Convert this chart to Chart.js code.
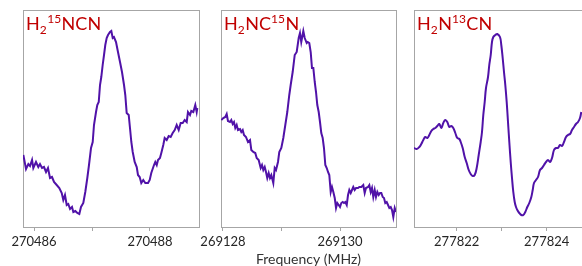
<!DOCTYPE html>
<html>
<head>
<meta charset="utf-8">
<script src="https://cdn.jsdelivr.net/npm/chart.js@4"></script>
<style>
  html, body { margin: 0; padding: 0; background: #fff; overflow: hidden; }
  #wrap { position: relative; width: 582px; height: 266px; overflow: hidden; }
  canvas { position: absolute; top: 0; }
</style>
</head>
<body>
<div id="wrap">
  <canvas id="c1" width="211" height="266" style="left:0px"></canvas>
  <canvas id="c2" width="217" height="266" style="left:191px"></canvas>
  <canvas id="c3" width="200" height="266" style="left:384px"></canvas>
</div>
<script>
// H2(15)NCN
const freq1 = [
  270485.816, 270485.862, 270485.902, 270485.931, 270485.966, 270485.988, 270486.034, 270486.074, 270486.103, 270486.138,
  270486.172, 270486.207, 270486.241, 270486.276, 270486.310, 270486.345, 270486.391, 270486.436, 270486.478, 270486.505,
  270486.534, 270486.564, 270486.591, 270486.621, 270486.655, 270486.678, 270486.712, 270486.747, 270486.781, 270486.810,
  270486.850, 270486.884, 270486.919, 270486.948, 270486.983, 270487.012, 270487.034, 270487.069, 270487.091, 270487.116,
  270487.138, 270487.160, 270487.184, 270487.207, 270487.229, 270487.253, 270487.276, 270487.310, 270487.333, 270487.357,
  270487.379, 270487.414, 270487.448, 270487.483, 270487.517, 270487.552, 270487.574, 270487.598, 270487.633, 270487.655,
  270487.678, 270487.702, 270487.736, 270487.771, 270487.793, 270487.822, 270487.850, 270487.884, 270487.919, 270487.966,
  270487.995, 270488.022, 270488.069, 270488.091, 270488.116, 270488.138, 270488.172, 270488.195, 270488.229, 270488.253,
  270488.288, 270488.322, 270488.357, 270488.391, 270488.426, 270488.460, 270488.495, 270488.529, 270488.564, 270488.598,
  270488.633, 270488.655, 270488.690, 270488.712, 270488.747, 270488.781, 270488.805, 270488.816
];
const int1 = [
  72, 58, 63, 61, 67, 59, 65, 60, 63, 59,
  60, 55, 59, 49, 50, 45, 42, 39, 34, 27,
  32, 22, 23, 18, 20, 15, 16, 14, 13, 20,
  24, 35, 49, 62, 79, 85, 102, 115, 122, 125,
  142, 150, 162, 172, 182, 189, 192, 195, 196, 189,
  190, 185, 175, 165, 155, 142, 132, 114, 112, 99,
  85, 75, 65, 60, 52, 50, 44, 47, 44, 44,
  47, 54, 62, 65, 62, 67, 69, 74, 82, 89,
  87, 91, 90, 94, 97, 102, 97, 104, 104, 107,
  105, 115, 112, 116, 115, 122, 115, 119
];

// H2NC(15)N
const freq2 = [
  269127.971, 269128.005, 269128.039, 269128.063, 269128.085, 269128.120, 269128.142, 269128.166, 269128.188, 269128.210,
  269128.234, 269128.256, 269128.291, 269128.313, 269128.337, 269128.359, 269128.393, 269128.427, 269128.462, 269128.484,
  269128.518, 269128.552, 269128.576, 269128.610, 269128.644, 269128.667, 269128.689, 269128.713, 269128.735, 269128.757,
  269128.781, 269128.803, 269128.826, 269128.860, 269128.884, 269128.906, 269128.940, 269128.962, 269128.997, 269129.031,
  269129.065, 269129.099, 269129.133, 269129.157, 269129.191, 269129.226, 269129.260, 269129.294, 269129.316, 269129.338,
  269129.373, 269129.397, 269129.431, 269129.448, 269129.475, 269129.499, 269129.521, 269129.544, 269129.568, 269129.590,
  269129.612, 269129.636, 269129.658, 269129.680, 269129.704, 269129.726, 269129.749, 269129.773, 269129.795, 269129.817,
  269129.841, 269129.863, 269129.886, 269129.910, 269129.932, 269129.954, 269129.978, 269130.000, 269130.022, 269130.046,
  269130.068, 269130.091, 269130.115, 269130.137, 269130.159, 269130.183, 269130.205, 269130.227, 269130.251, 269130.274,
  269130.308, 269130.330, 269130.364, 269130.398, 269130.422, 269130.444, 269130.479, 269130.501, 269130.525, 269130.547,
  269130.569, 269130.593, 269130.615, 269130.638, 269130.662, 269130.684, 269130.706, 269130.730, 269130.752, 269130.774,
  269130.798, 269130.821, 269130.843, 269130.867, 269130.889, 269130.911, 269130.935, 269130.957
];
const int2 = [
  107, 109, 110, 113, 106, 105, 107, 103, 105, 99,
  102, 97, 98, 95, 97, 92, 90, 85, 87, 77,
  75, 74, 69, 67, 59, 62, 57, 60, 55, 49,
  54, 49, 52, 44, 59, 57, 65, 75, 79, 89,
  102, 115, 132, 142, 155, 172, 175, 189, 194, 185,
  196, 189, 184, 185, 184, 175, 159, 159, 145, 135,
  122, 115, 105, 94, 89, 79, 62, 59, 55, 52,
  35, 40, 35, 29, 19, 24, 22, 20, 24, 25,
  24, 25, 22, 32, 37, 34, 37, 40, 37, 39,
  39, 40, 40, 42, 34, 39, 40, 42, 35, 39,
  30, 37, 30, 35, 32, 34, 34, 30, 29, 24,
  25, 22, 19, 20, 17, 10, 19, 15
];

// H2N(13)CN
const freq3 = [
  277821.051, 277821.111, 277821.169, 277821.213, 277821.258, 277821.302, 277821.347, 277821.391, 277821.436, 277821.480,
  277821.524, 277821.569, 277821.613, 277821.658, 277821.702, 277821.747, 277821.791, 277821.836, 277821.880, 277821.924,
  277821.969, 277822.013, 277822.058, 277822.089, 277822.133, 277822.178, 277822.222, 277822.267, 277822.311, 277822.356,
  277822.400, 277822.444, 277822.489, 277822.533, 277822.562, 277822.591, 277822.622, 277822.651, 277822.696, 277822.724,
  277822.756, 277822.784, 277822.813, 277822.858, 277822.902, 277822.962, 277822.991, 277823.022, 277823.051, 277823.080,
  277823.111, 277823.140, 277823.169, 277823.200, 277823.229, 277823.258, 277823.289, 277823.318, 277823.347, 277823.391,
  277823.436, 277823.480, 277823.524, 277823.569, 277823.613, 277823.658, 277823.689, 277823.718, 277823.762, 277823.807,
  277823.851, 277823.896, 277823.940, 277823.984, 277824.029, 277824.073, 277824.118, 277824.162, 277824.207, 277824.251,
  277824.296, 277824.340, 277824.384, 277824.429, 277824.473, 277824.518, 277824.562, 277824.607, 277824.651, 277824.696,
  277824.740, 277824.769
];
const int3 = [
  79, 78, 80, 83, 87, 90, 89, 92, 96, 98,
  99, 101, 103, 99, 104, 107, 105, 100, 101, 99,
  94, 89, 88, 85, 79, 70, 64, 57, 53, 51,
  52, 59, 72, 85, 95, 112, 125, 139, 150, 162,
  172, 185, 190, 192, 193, 190, 182, 169, 155, 142,
  125, 105, 85, 65, 49, 35, 25, 20, 17, 14,
  12, 12, 15, 20, 24, 30, 37, 44, 47, 50,
  57, 59, 62, 65, 67, 65, 69, 77, 79, 79,
  82, 81, 85, 90, 92, 93, 97, 100, 103, 105,
  109, 115
];

// axis windows (MHz)
const range1 = [270485.81, 270488.845];
const range2 = [269127.966, 269130.957];
const range3 = [277821.051, 277824.829];

// species labels: [text, 'sub' | 'sup' | '']
const name1 = [['H', ''], ['2', 'sub'], ['15', 'sup'], ['NCN', '']];
const name2 = [['H', ''], ['2', 'sub'], ['NC', ''], ['15', 'sup'], ['N', '']];
const name3 = [['H', ''], ['2', 'sub'], ['N', ''], ['13', 'sup'], ['CN', '']];

const axisTitle = 'Frequency (MHz)';

const boxPlugin = {
  id: 'box',
  beforeDatasetsDraw(chart) {
    const a = chart.chartArea, ctx = chart.ctx;
    ctx.save();
    ctx.strokeStyle = '#a6a6a6';
    ctx.lineWidth = 1;
    ctx.strokeRect(Math.round(a.left) + 0.5, Math.round(a.top) + 0.5,
                   Math.round(a.right - a.left), Math.round(a.bottom - a.top));
    ctx.restore();
  }
};

const namePlugin = {
  id: 'speciesName',
  afterDraw(chart, args, opts) {
    const a = chart.chartArea, ctx = chart.ctx;
    let x = a.left + 3;
    const y = a.top + 20;
    ctx.save();
    ctx.fillStyle = '#c00000';
    ctx.textBaseline = 'alphabetic';
    opts.parts.forEach(p => {
      const small = p[1] !== '';
      ctx.font = (small ? 12 : 18) + 'px Lato';
      const dy = p[1] === 'sub' ? 4 : (p[1] === 'sup' ? -7 : 0);
      ctx.fillText(p[0], x, y + dy);
      x += ctx.measureText(p[0]).width + (small ? 0.5 : 0);
    });
    ctx.restore();
  }
};

function makePanel(id, xs, ys, range, parts, pad, smooth, title) {
  const pts = xs.map((x, i) => ({ x: x, y: ys[i] }));
  return new Chart(document.getElementById(id), {
    type: 'line',
    data: {
      datasets: [{
        data: pts,
        borderColor: '#5012a8',
        borderWidth: 2,
        pointRadius: 0,
        tension: smooth ? 0.4 : 0,
        fill: false
      }]
    },
    plugins: [boxPlugin, namePlugin],
    options: {
      responsive: false,
      animation: false,
      devicePixelRatio: 1,
      layout: { padding: { left: pad[0], right: pad[1], top: 10, bottom: 0 } },
      scales: {
        x: {
          type: 'linear',
          min: range[0],
          max: range[1],
          afterFit: s => { s.height = 39; },
          grid: { display: true, drawOnChartArea: false, drawTicks: true, tickLength: 4, color: '#a6a6a6' },
          border: { display: true, color: '#a6a6a6' },
          ticks: {
            stepSize: 1,
            includeBounds: false,
            autoSkip: false,
            maxRotation: 0,
            padding: 3,
            color: '#262626',
            font: { family: 'Lato', size: 13 },
            callback: v => (v % 2 === 0 ? String(v) : '')
          },
          title: {
            display: !!title,
            text: title || '',
            color: '#333333',
            font: { family: 'Lato', size: 14, lineHeight: 1 },
            padding: { top: 0, bottom: 0 }
          }
        },
        y: {
          display: false,
          min: 0,
          max: 217
        }
      },
      plugins: {
        legend: { display: false },
        tooltip: { enabled: false },
        speciesName: { parts: parts }
      }
    }
  });
}

makePanel('c1', freq1, int1, range1, name1, [23, 12], false, null);
makePanel('c2', freq2, int2, range2, name2, [30, 12], false, axisTitle);
makePanel('c3', freq3, int3, range3, name3, [30, 0], true, null);
</script>
</body>
</html>
